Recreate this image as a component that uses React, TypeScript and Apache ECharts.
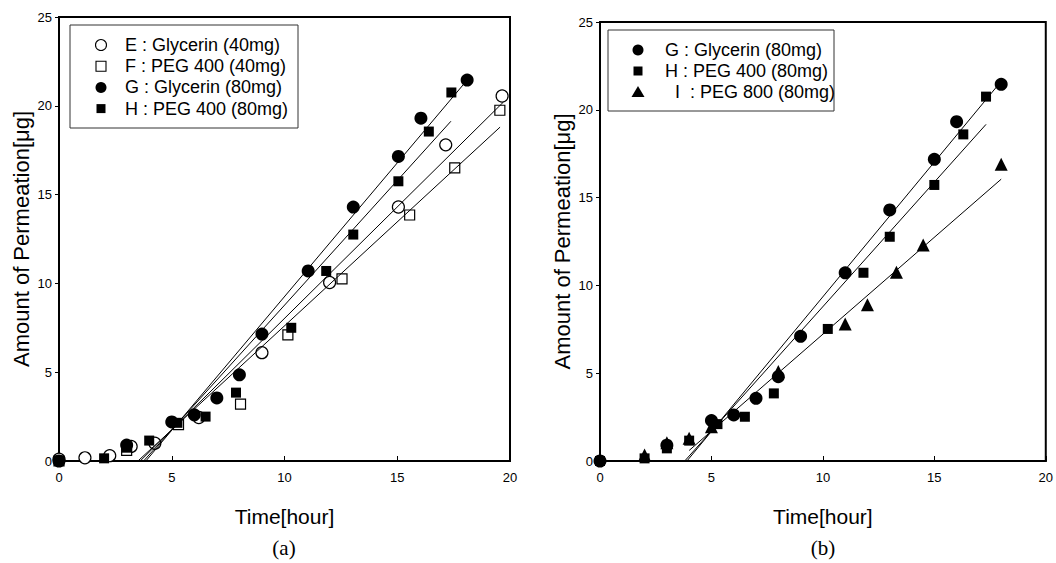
import React, { useEffect, useRef } from "react";
import * as echarts from "echarts";

// ---------- data: panel (a) ----------
const E_a: [number, number][] = [
  [0, 0.1], [1.15, 0.18], [2.25, 0.3], [3.2, 0.82], [4.25, 1.0], [6.2, 2.45],
  [9.0, 6.1], [12.0, 10.05], [15.05, 14.3], [17.15, 17.8], [19.65, 20.55],
];
const F_a: [number, number][] = [
  [0, 0], [3.0, 0.6], [5.3, 2.05], [8.05, 3.2], [10.15, 7.1], [12.55, 10.25],
  [15.55, 13.85], [17.55, 16.5], [19.55, 19.75],
];
const G_a: [number, number][] = [
  [0, 0], [3.0, 0.9], [5.0, 2.2], [6.0, 2.6], [7.0, 3.55], [8.0, 4.85], [9.0, 7.15],
  [11.05, 10.7], [13.05, 14.3], [15.05, 17.15], [16.05, 19.3], [18.1, 21.45],
];
const H_a: [number, number][] = [
  [0, 0], [2.0, 0.15], [3.0, 0.75], [4.0, 1.15], [5.25, 2.15], [6.5, 2.5], [7.85, 3.85],
  [10.3, 7.5], [11.85, 10.7], [13.05, 12.75], [15.05, 15.75], [16.4, 18.55], [17.4, 20.75],
];
const fitE_a: [number, number][] = [[3.6, 0], [19.7, 20.2]];
const fitF_a: [number, number][] = [[3.5, 0], [19.56, 18.8]];
const fitG_a: [number, number][] = [[3.85, 0], [18.2, 21.6]];
const fitH_a: [number, number][] = [[3.75, 0], [17.38, 19.13]];

// ---------- data: panel (b) ----------
const G_b: [number, number][] = [
  [0, 0], [3.0, 0.9], [5.0, 2.3], [6.0, 2.62], [7.0, 3.57], [8.0, 4.8], [9.0, 7.1],
  [11.0, 10.72], [13.0, 14.3], [15.0, 17.18], [16.0, 19.32], [18.0, 21.45],
];
const H_b: [number, number][] = [
  [0, 0], [2.0, 0.15], [3.0, 0.72], [4.0, 1.16], [5.27, 2.1], [6.5, 2.52], [7.8, 3.85],
  [10.22, 7.52], [11.82, 10.72], [13.0, 12.77], [15.0, 15.72], [16.3, 18.6], [17.32, 20.75],
];
const I_b: [number, number][] = [
  [2.0, 0.34], [3.0, 1.04], [4.0, 1.29], [5.0, 1.95], [8.0, 5.1], [11.0, 7.8],
  [12.0, 8.9], [13.3, 10.75], [14.5, 12.3], [18.0, 16.9],
];
const fitG_b: [number, number][] = [[3.9, 0], [18.05, 21.7]];
const fitH_b: [number, number][] = [[3.8, 0], [17.32, 19.17]];
const fitI_b: [number, number][] = [[4.0, 0.6], [18.0, 16.05]];

// ---------- text ----------
const xTitle = "Time[hour]";
const yTitle = "Amount of Permeation[μg]";
const panelLabels = ["(a)", "(b)"];
const legendA = ["E : Glycerin (40mg)", "F : PEG 400 (40mg)", "G : Glycerin (80mg)", "H : PEG 400 (80mg)"];
const legendAMarks = ["openCircle", "openSquare", "circle", "square"];
const legendB = ["G : Glycerin (80mg)", "H : PEG 400 (80mg)", "\u00a0\u00a0I\u00a0\u00a0: PEG 800 (80mg)"];
const legendBMarks = ["circle", "square", "triangle"];

const FONT = "'Liberation Sans', Arial, sans-serif";

function scatter(data: [number, number][], idx: number, kind: string) {
  const open = kind.startsWith("open");
  const isCircle = kind.toLowerCase().includes("circle");
  const isTri = kind === "triangle";
  return {
    type: "scatter",
    data,
    xAxisIndex: idx,
    yAxisIndex: idx,
    symbol: isTri ? "triangle" : isCircle ? "circle" : "rect",
    symbolSize: isTri ? 13 : isCircle ? (open ? 12 : 13) : 10,
    clip: false,
    z: 3,
    itemStyle: {
      color: open ? "#fff" : "#000",
      borderColor: "#000",
      borderWidth: open ? 1.2 : 0,
      opacity: 1,
    },
    emphasis: { disabled: true },
  };
}

function fit(data: [number, number][], idx: number) {
  return {
    type: "line",
    data,
    xAxisIndex: idx,
    yAxisIndex: idx,
    symbol: "none",
    silent: true,
    z: 4,
    lineStyle: { color: "#000", width: 1 },
  };
}

function xAxis(idx: number) {
  return {
    type: "value",
    gridIndex: idx,
    min: 0,
    max: 20,
    interval: 5,
    name: xTitle,
    nameLocation: "middle",
    nameGap: 45,
    nameTextStyle: { fontSize: 21, fontFamily: FONT, color: "#000" },
    axisLine: { show: true, onZero: false, lineStyle: { color: "#000", width: 2 } },
    axisTick: { show: true, inside: true, length: 5, lineStyle: { color: "#000", width: 1 } },
    axisLabel: { color: "#000", fontSize: 13, fontFamily: FONT, margin: 10 },
    splitLine: { show: false },
  };
}

function yAxis(idx: number) {
  return {
    type: "value",
    gridIndex: idx,
    min: 0,
    max: 25,
    interval: 5,
    name: yTitle,
    nameLocation: "middle",
    nameGap: 27,
    nameTextStyle: { fontSize: 22, fontFamily: FONT, color: "#000" },
    axisLine: { show: true, onZero: false, lineStyle: { color: "#000", width: 2 } },
    axisTick: { show: true, inside: false, length: 4, lineStyle: { color: "#000", width: 1 } },
    axisLabel: { color: "#000", fontSize: 13, fontFamily: FONT, margin: 7 },
    splitLine: { show: false },
  };
}

function legendGraphics(
  labels: string[],
  marks: string[],
  box: { x: number; y: number; w: number; h: number },
  symX: number,
  textX: number,
  rowY0: number,
  rowStep: number
) {
  const els: any[] = [
    {
      type: "rect",
      shape: { x: box.x, y: box.y, width: box.w, height: box.h },
      style: { fill: "#fff", stroke: "#333", lineWidth: 1 },
      z: 10,
    },
  ];
  labels.forEach((label, i) => {
    const cy = rowY0 + i * rowStep;
    const m = marks[i];
    const open = m.startsWith("open");
    const style = { fill: open ? "#fff" : "#000", stroke: "#000", lineWidth: open ? 1.1 : 0 };
    if (m.toLowerCase().includes("circle")) {
      els.push({ type: "circle", shape: { cx: symX, cy, r: 5.5 }, style, z: 11 });
    } else if (m === "triangle") {
      els.push({
        type: "polygon",
        shape: { points: [[symX, cy - 6], [symX + 6.5, cy + 5], [symX - 6.5, cy + 5]] },
        style,
        z: 11,
      });
    } else {
      const s = open ? 10 : 9;
      els.push({ type: "rect", shape: { x: symX - s / 2, y: cy - s / 2, width: s, height: s }, style, z: 11 });
    }
    els.push({
      type: "text",
      x: textX,
      y: cy,
      style: { text: label, font: `18px ${FONT}`, fill: "#000", verticalAlign: "middle", align: "left" },
      z: 11,
    });
  });
  return els;
}

export default function App() {
  const ref = useRef<HTMLDivElement>(null);
  useEffect(() => {
    if (!ref.current) return;
    const chart = echarts.init(ref.current, undefined, { renderer: "svg" });
    const option: any = {
      animation: false,
      backgroundColor: "#fff",
      grid: [
        { left: 59, top: 17, width: 451, height: 444, show: true, borderColor: "#000", borderWidth: 2, backgroundColor: "transparent" },
        { left: 600, top: 22, width: 447, height: 439, show: true, borderColor: "#000", borderWidth: 2, backgroundColor: "transparent" },
      ],
      xAxis: [xAxis(0), xAxis(1)],
      yAxis: [yAxis(0), yAxis(1)],
      series: [
        scatter(E_a, 0, "openCircle"),
        scatter(F_a, 0, "openSquare"),
        scatter(G_a, 0, "circle"),
        scatter(H_a, 0, "square"),
        fit(fitE_a, 0),
        fit(fitF_a, 0),
        fit(fitG_a, 0),
        fit(fitH_a, 0),
        scatter(G_b, 1, "circle"),
        scatter(H_b, 1, "square"),
        scatter(I_b, 1, "triangle"),
        fit(fitG_b, 1),
        fit(fitH_b, 1),
        fit(fitI_b, 1),
      ],
      graphic: [
        ...legendGraphics(legendA, legendAMarks, { x: 70, y: 25, w: 228, h: 103 }, 101, 125, 45, 21.2),
        ...legendGraphics(legendB, legendBMarks, { x: 608, y: 30, w: 226, h: 81 }, 638, 665, 50, 21),
        {
          type: "text",
          x: 284,
          y: 548,
          style: { text: panelLabels[0], font: "21px 'Liberation Serif', serif", fill: "#000", align: "center", verticalAlign: "middle" },
        },
        {
          type: "text",
          x: 823,
          y: 548,
          style: { text: panelLabels[1], font: "21px 'Liberation Serif', serif", fill: "#000", align: "center", verticalAlign: "middle" },
        },
      ],
    };
    chart.setOption(option);
    return () => chart.dispose();
  }, []);
  return (
    <div
      ref={ref}
      style={{ position: "absolute", left: 0, top: 0, width: 1056, height: 563, background: "#fff" }}
    />
  );
}
